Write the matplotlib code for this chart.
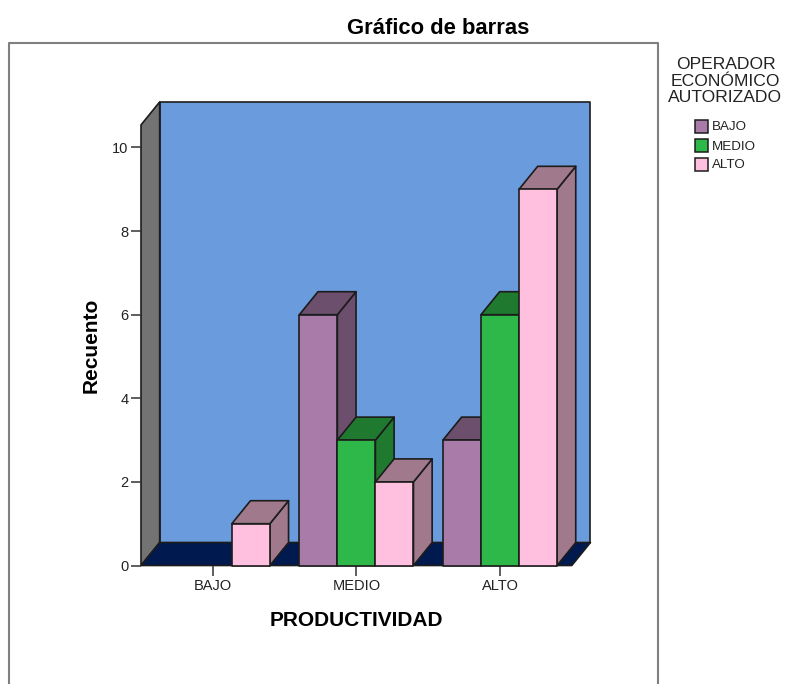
import matplotlib
matplotlib.use("Agg")
from matplotlib import pyplot as plt
from matplotlib.patches import Polygon, Rectangle

plt.rcParams['font.family'] = ['Liberation Sans', 'DejaVu Sans']

categories = ['BAJO', 'MEDIO', 'ALTO']
series_names = ['BAJO', 'MEDIO', 'ALTO']
values_bajo = [0, 6, 3]
values_medio = [0, 3, 6]
values_alto = [1, 2, 9]
y_ticks = [0, 2, 4, 6, 8, 10]

front_colors = ['#A87BA8', '#2FB84A', '#FFC0E0']
shade_colors = ['#6C4F6C', '#1F7A30', '#A07A8C']
edge = '#1c1c1c'

W, H = 785, 684
DX, DY = 0.13, 0.55      # profundidad 3d en unidades de datos
BAR_W = 0.265
YTOP = 10.54


def poly(ax, pts, color, z=1):
    ax.add_patch(Polygon(pts, closed=True, facecolor=color, edgecolor=edge,
                         linewidth=1.2, clip_on=False, zorder=z, joinstyle='round'))


def box(ax, x0, x1, h, front, shade, z):
    poly(ax, [(x1, 0), (x1 + DX, DY), (x1 + DX, h + DY), (x1, h)], shade, z)
    poly(ax, [(x0, h), (x0 + DX, h + DY), (x1 + DX, h + DY), (x1, h)], shade, z)
    poly(ax, [(x0, 0), (x1, 0), (x1, h), (x0, h)], front, z)


fig = plt.figure(figsize=(W / 100, H / 100), dpi=100, facecolor='white')

# marco gris del grafico, se corta por abajo
frame_x = [8.5 / W, 8.5 / W, 658 / W, 658 / W]
frame_y = [0, 1 - 43 / H, 1 - 43 / H, 0]
fig.add_artist(plt.Line2D(frame_x, frame_y, color='#7f7f7f', linewidth=1.5))

ax = fig.add_axes([141 / W, (H - 565.5) / H, 430.8 / W, YTOP * 41.8 / H])
ax.set_xlim(-0.5, 2.5)
ax.set_ylim(0, YTOP)
ax.patch.set_visible(False)
for s in ax.spines.values():
    s.set_visible(False)

# paredes y suelo
x_l, x_r = -0.5, 2.5
poly(ax, [(x_l + DX, DY), (x_r + DX, DY), (x_r + DX, YTOP + DY), (x_l + DX, YTOP + DY)], '#6A9BDD')
poly(ax, [(x_l, 0), (x_l + DX, DY), (x_l + DX, YTOP + DY), (x_l, YTOP)], '#737373')
poly(ax, [(x_l, 0), (x_r, 0), (x_r + DX, DY), (x_l + DX, DY)], '#001A4F')

all_series = [values_bajo, values_medio, values_alto]
z = 2
for i in range(len(categories)):
    for j, vals in enumerate(all_series):
        if vals[i] == 0:
            continue
        x0 = i + (j - 1.5) * BAR_W
        box(ax, x0, x0 + BAR_W, vals[i], front_colors[j], shade_colors[j], z)
        z += 1

ax.set_xticks(range(len(categories)))
ax.set_xticklabels(categories)
ax.set_yticks(y_ticks)
ax.tick_params(axis='x', length=7, width=1.1, color='#333333', labelsize=10.5,
               labelcolor='#222222', pad=3)
ax.tick_params(axis='y', length=7, width=1.1, color='#333333', labelsize=10.5,
               labelcolor='#222222', pad=2)
for lab in ax.get_yticklabels():
    lab.set_verticalalignment('center_baseline')
ax.set_xlabel('PRODUCTIVIDAD', fontsize=15, fontweight='bold', labelpad=13)
ax.set_ylabel('Recuento', fontsize=15, fontweight='bold', labelpad=8)

fig.text(438 / W, 1 - 28 / H, 'Gráfico de barras', fontsize=15.8, fontweight='bold',
         ha='center', va='center', color='#000000')

# leyenda a mano, como la de SPSS
fig.text(725.5 / W, 1 - 81 / H, 'OPERADOR\nECONÓMICO\nAUTORIZADO', fontsize=12.6,
         ha='center', va='center', color='#222222', linespacing=1.13)
for k, name in enumerate(series_names):
    top = 120 + k * 19
    fig.add_artist(Rectangle((695 / W, 1 - (top + 13) / H), 13 / W, 13 / H,
                             transform=fig.transFigure, facecolor=front_colors[k],
                             edgecolor=edge, linewidth=1.1))
    fig.text(712 / W, 1 - (top + 7.5) / H, name, fontsize=9.6, ha='left', va='center',
             color='#222222')

fig.savefig('out.png', dpi=100, facecolor='white')
